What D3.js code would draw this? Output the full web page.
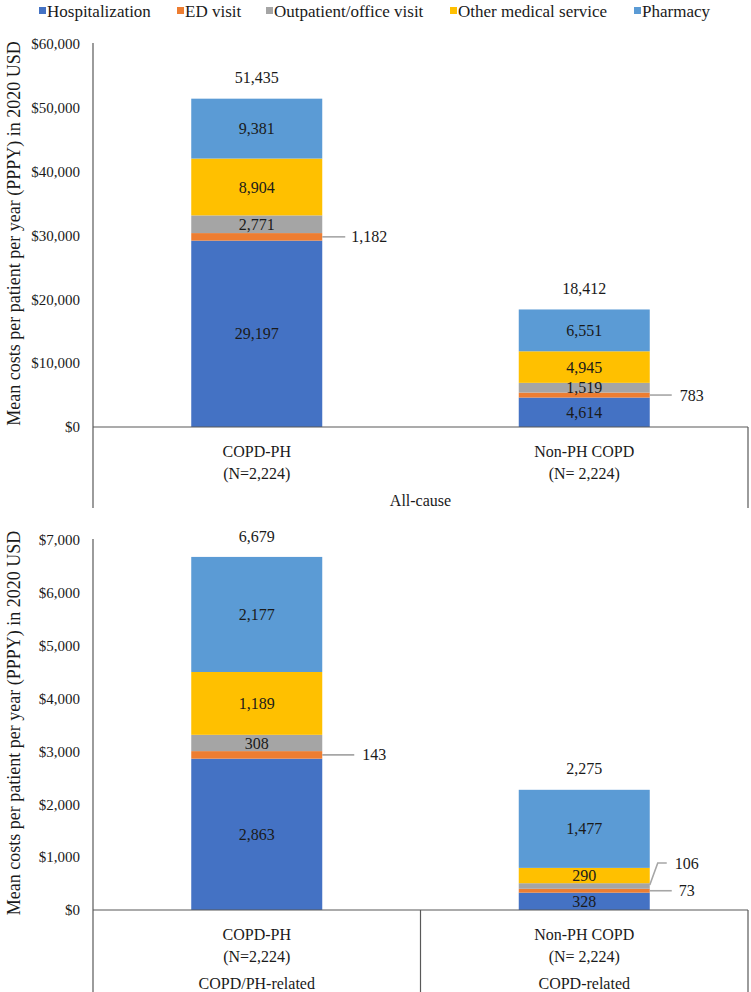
<!DOCTYPE html>
<html>
<head>
<meta charset="utf-8">
<script src="https://cdn.jsdelivr.net/npm/d3@7"></script>
<style>
  html, body { margin: 0; padding: 0; background: #fff; }
  svg { display: block; }
  text { font-family: "Liberation Serif", "Times New Roman", serif; fill: #1a1a1a; }
</style>
</head>
<body>
<svg id="chart" width="751" height="992"></svg>
<script>
// ---------- DATA ----------
const seriesNames = ["Hospitalization", "ED visit", "Outpatient/office visit", "Other medical service", "Pharmacy"];
const seriesColors = ["#4472C4", "#ED7D31", "#A5A5A5", "#FFC000", "#5B9BD5"];
const categories = ["COPD-PH", "Non-PH COPD"];
const categorySubLabels = ["(N=2,224)", "(N= 2,224)"];

// All-cause (top panel), values per series: [COPD-PH, Non-PH COPD]
const allCauseHospitalization = [29197, 4614];
const allCauseED = [1182, 783];
const allCauseOutpatient = [2771, 1519];
const allCauseOther = [8904, 4945];
const allCausePharmacy = [9381, 6551];
const allCauseTotals = [51435, 18412];
const allCauseTicks = [0, 10000, 20000, 30000, 40000, 50000, 60000];
const allCauseGroupLabels = ["All-cause"];

// Disease-related (bottom panel)
const relatedHospitalization = [2863, 328];
const relatedED = [143, 73];
const relatedOutpatient = [308, 106];
const relatedOther = [1189, 290];
const relatedPharmacy = [2177, 1477];
const relatedTotals = [6679, 2275];
const relatedTicks = [0, 1000, 2000, 3000, 4000, 5000, 6000, 7000];
const relatedGroupLabels = ["COPD/PH-related", "COPD-related"];

const yTitle = "Mean costs per patient per year (PPPY) in 2020 USD";

// ---------- LAYOUT ----------
const svg = d3.select("#chart");
const FONT = '"Liberation Serif", "Times New Roman", serif';
const plotLeft = 93, plotRight = 748;
const axisColor = "#595959";
const leaderColor = "#A6A6A6";

const x = d3.scaleBand().domain(categories).range([plotLeft, plotRight]).paddingInner(0.6).paddingOuter(0.3);

// Legend
const legendX = [39, 177, 266, 450, 634];
const legend = svg.append("g");
seriesNames.forEach((name, i) => {
  legend.append("rect").attr("x", legendX[i]).attr("y", 7).attr("width", 7).attr("height", 7).attr("fill", seriesColors[i]);
  legend.append("text").attr("x", legendX[i] + 8).attr("y", 11).attr("dy", "0.35em")
    .style("font-size", "17px").text(name);
});

function buildRows(h, e, o, m, p) {
  return categories.map((c, i) => ({ cat: c, s0: h[i], s1: e[i], s2: o[i], s3: m[i], s4: p[i] }));
}

function drawPanel(cfg) {
  const g = svg.append("g");
  const y = d3.scaleLinear().domain([0, d3.max(cfg.ticks)]).range([cfg.y0, cfg.yTop]);
  const rows = buildRows(...cfg.values);
  const keys = ["s0", "s1", "s2", "s3", "s4"];
  const stacked = d3.stack().keys(keys)(rows);

  // bars
  stacked.forEach((layer, li) => {
    g.append("g").selectAll("rect").data(layer).join("rect")
      .attr("x", d => x(d.data.cat))
      .attr("width", x.bandwidth())
      .attr("y", d => y(d[1]))
      .attr("height", d => y(d[0]) - y(d[1]))
      .attr("fill", seriesColors[li]);
  });

  // y axis
  const yAxis = d3.axisLeft(y).tickValues(cfg.ticks).tickSize(0).tickPadding(13)
    .tickFormat(d => "$" + d3.format(",")(d));
  const ax = g.append("g").attr("transform", `translate(${plotLeft},0)`).call(yAxis);
  ax.select(".domain").remove();
  ax.selectAll("text").style("font-size", "15px").style("font-family", FONT).attr("fill", "#1a1a1a");

  // vertical axis line (extends down through the category box)
  g.append("line").attr("x1", plotLeft).attr("x2", plotLeft).attr("y1", cfg.yTop - 1).attr("y2", cfg.boxBottom)
    .attr("stroke", axisColor).attr("stroke-width", 1.2);
  // baseline
  g.append("line").attr("x1", plotLeft).attr("x2", plotRight).attr("y1", y(0)).attr("y2", y(0))
    .attr("stroke", axisColor).attr("stroke-width", 1.2);
  // right box line
  g.append("line").attr("x1", plotRight).attr("x2", plotRight).attr("y1", y(0)).attr("y2", cfg.boxBottom)
    .attr("stroke", axisColor).attr("stroke-width", 1.2);
  if (cfg.groupLabels.length > 1) {
    const mid = (plotLeft + plotRight) / 2;
    g.append("line").attr("x1", mid).attr("x2", mid).attr("y1", y(0)).attr("y2", cfg.boxBottom)
      .attr("stroke", axisColor).attr("stroke-width", 1.2);
  }

  // segment labels (inside), except ED visit (leader)
  stacked.forEach((layer, li) => {
    layer.forEach((d, ci) => {
      const val = d[1] - d[0];
      const cx = x(d.data.cat) + x.bandwidth() / 2;
      const cy = (y(d[0]) + y(d[1])) / 2;
      const lead = cfg.leaders.find(l => l.series === li && l.cat === ci);
      if (lead) {
        const xr = x(d.data.cat) + x.bandwidth();
        const pts = lead.path.map(p => [xr + p[0], cy + p[1]]);
        g.append("path").attr("d", d3.line()(pts)).attr("fill", "none")
          .attr("stroke", leaderColor).attr("stroke-width", 1.6);
        const last = pts[pts.length - 1];
        g.append("text").attr("x", last[0] + lead.gap).attr("y", last[1]).attr("dy", "0.35em")
          .style("font-size", "16px").text(d3.format(",")(val));
      } else {
        g.append("text").attr("x", cx).attr("y", cy).attr("dy", "0.35em").attr("text-anchor", "middle")
          .style("font-size", "16px").text(d3.format(",")(val));
      }
    });
  });

  // totals
  cfg.totals.forEach((t, i) => {
    const cat = categories[i];
    g.append("text").attr("x", x(cat) + x.bandwidth() / 2).attr("y", y(d3.sum(cfg.values, v => v[i])) - 21)
      .attr("dy", "0.35em").attr("text-anchor", "middle").style("font-size", "16px").text(d3.format(",")(t));
  });

  // category labels
  categories.forEach((c, i) => {
    const cx = x(c) + x.bandwidth() / 2;
    g.append("text").attr("x", cx).attr("y", y(0) + 24).attr("dy", "0.35em").attr("text-anchor", "middle")
      .style("font-size", "16px").text(c);
    g.append("text").attr("x", cx).attr("y", y(0) + 46).attr("dy", "0.35em").attr("text-anchor", "middle")
      .style("font-size", "16px").text(categorySubLabels[i]);
  });
  if (cfg.groupLabels.length === 1) {
    g.append("text").attr("x", (plotLeft + plotRight) / 2).attr("y", y(0) + 73).attr("dy", "0.35em")
      .attr("text-anchor", "middle").style("font-size", "16px").text(cfg.groupLabels[0]);
  } else {
    cfg.groupLabels.forEach((lab, i) => {
      g.append("text").attr("x", x(categories[i]) + x.bandwidth() / 2).attr("y", y(0) + 73).attr("dy", "0.35em")
        .attr("text-anchor", "middle").style("font-size", "16px").text(lab);
    });
  }

  // y title
  g.append("text").attr("transform", `translate(14,${(cfg.yTop + cfg.y0) / 2 - 2}) rotate(-90)`)
    .attr("dy", "0.35em").attr("text-anchor", "middle").style("font-size", "18px").text(yTitle);
}

drawPanel({
  values: [allCauseHospitalization, allCauseED, allCauseOutpatient, allCauseOther, allCausePharmacy],
  totals: allCauseTotals, ticks: allCauseTicks, groupLabels: allCauseGroupLabels,
  y0: 427, yTop: 44, boxBottom: 508,
  leaders: [
    { series: 1, cat: 0, path: [[0, 0], [23, 0]], gap: 6 },
    { series: 1, cat: 1, path: [[0, 0], [22, 0]], gap: 8 }
  ]
});

drawPanel({
  values: [relatedHospitalization, relatedED, relatedOutpatient, relatedOther, relatedPharmacy],
  totals: relatedTotals, ticks: relatedTicks, groupLabels: relatedGroupLabels,
  y0: 910, yTop: 540, boxBottom: 992,
  leaders: [
    { series: 1, cat: 0, path: [[0, 0], [32, 0]], gap: 8 },
    { series: 1, cat: 1, path: [[0, 0], [22, 0]], gap: 7 },
    { series: 2, cat: 1, path: [[0, -1], [8, -23], [17, -23]], gap: 8 }
  ]
});
</script>
</body>
</html>
